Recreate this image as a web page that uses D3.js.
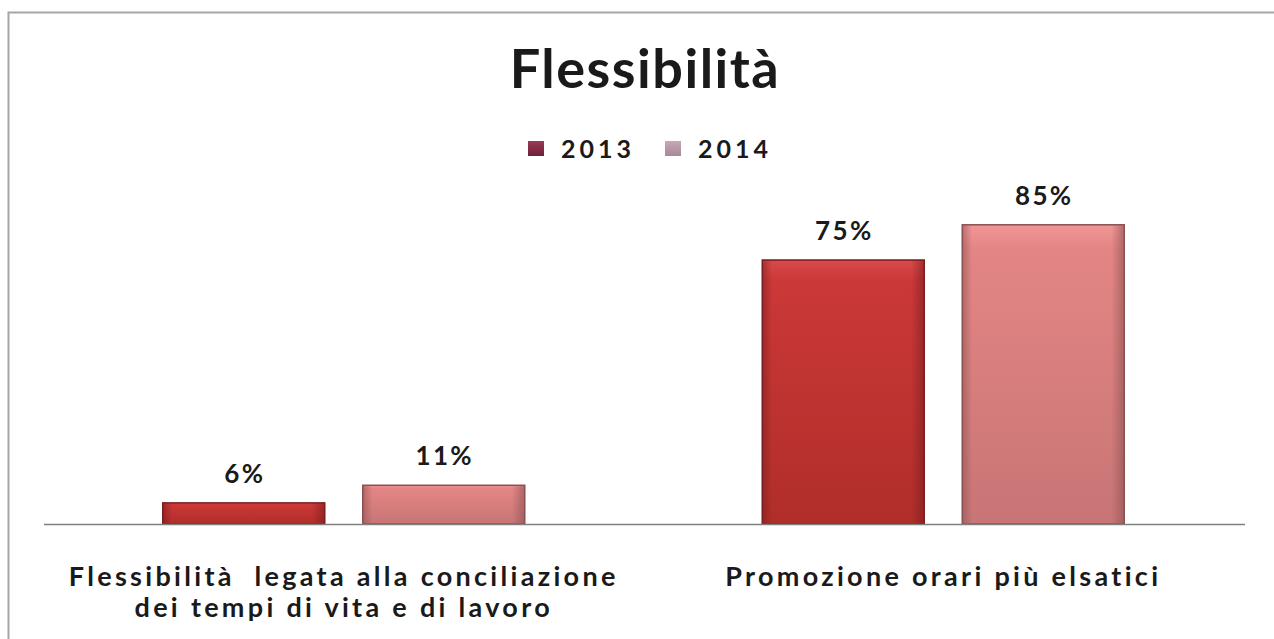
<!DOCTYPE html>
<html>
<head>
<meta charset="utf-8">
<script src="https://cdn.jsdelivr.net/npm/d3@7"></script>
<style>
  html, body { margin: 0; padding: 0; background: #ffffff; }
  svg { display: block; }
  text { font-family: Lato, "Open Sans", "DejaVu Sans", sans-serif; font-weight: bold; fill: #1a1a1a; }
</style>
</head>
<body>
<svg id="chart" width="1274" height="639"></svg>
<script>
// Chart content
const title = "Flessibilità";
const categories = [
  ["Flessibilità  legata alla conciliazione", "dei tempi di vita e di lavoro"],
  ["Promozione orari più elsatici"]
];
const seriesNames = ["2013", "2014"];
const values2013 = [6, 75];
const values2014 = [11, 85];
const seriesValues = [values2013, values2014];

const W = 1274, H = 639;
const svg = d3.select("#chart");

// Frame around the chart
svg.append("rect")
  .attr("x", 8.5).attr("y", 12.5)
  .attr("width", W + 20).attr("height", H + 20)
  .attr("fill", "#ffffff")
  .attr("stroke", "#a6a6a6").attr("stroke-width", 2);

// Gradients for bars and legend swatches
const defs = svg.append("defs");
const barStyles = [
  { id: "g2013", top: "#d84a4a", mid: "#cb3838", bot: "#b02e2a", edge: "#7a1d1f" },
  { id: "g2014", top: "#f09696", mid: "#e48585", bot: "#c87575", edge: "#8a5050" }
];
barStyles.forEach(s => {
  const v = defs.append("linearGradient").attr("id", s.id)
    .attr("x1", 0).attr("y1", 0).attr("x2", 0).attr("y2", 1);
  v.append("stop").attr("offset", "0%").attr("stop-color", s.top);
  v.append("stop").attr("offset", "8%").attr("stop-color", s.mid);
  v.append("stop").attr("offset", "100%").attr("stop-color", s.bot);
  const h = defs.append("linearGradient").attr("id", s.id + "h")
    .attr("x1", 0).attr("y1", 0).attr("x2", 1).attr("y2", 0);
  h.append("stop").attr("offset", "0%").attr("stop-color", s.edge).attr("stop-opacity", 0.55);
  h.append("stop").attr("offset", "6%").attr("stop-color", s.edge).attr("stop-opacity", 0.0);
  h.append("stop").attr("offset", "92%").attr("stop-color", s.edge).attr("stop-opacity", 0.0);
  h.append("stop").attr("offset", "100%").attr("stop-color", s.edge).attr("stop-opacity", 0.6);
});
const legendColors = [["#9a3a55", "#6e2238"], ["#c8a8b6", "#a88898"]];
legendColors.forEach((c, i) => {
  const g = defs.append("linearGradient").attr("id", "lg" + i)
    .attr("x1", 0).attr("y1", 0).attr("x2", 0).attr("y2", 1);
  g.append("stop").attr("offset", "0%").attr("stop-color", c[0]);
  g.append("stop").attr("offset", "100%").attr("stop-color", c[1]);
});

// Scales
const x = d3.scaleBand().domain(d3.range(categories.length)).range([44, 1243]);
const xs = d3.scaleBand().domain(seriesNames).range([-181, 181]).paddingInner(0.19);
const y = d3.scaleLinear().domain([0, 100]).range([524, 172]);

// Title
svg.append("text")
  .attr("x", 645).attr("y", 88)
  .attr("text-anchor", "middle")
  .attr("font-size", 54)
  .attr("letter-spacing", 1.5)
  .text(title);

// Legend
const legend = svg.append("g");
const legendX = [528, 665];
seriesNames.forEach((name, i) => {
  legend.append("rect")
    .attr("x", legendX[i]).attr("y", 141)
    .attr("width", 16).attr("height", 15)
    .attr("fill", `url(#lg${i})`);
  legend.append("text")
    .attr("x", legendX[i] + 33).attr("y", 158)
    .attr("font-size", 25)
    .attr("letter-spacing", 4)
    .text(name);
});

// Bars
const groups = svg.append("g").selectAll("g")
  .data(categories.map((c, ci) => ci))
  .join("g")
  .attr("transform", ci => `translate(${x(ci) + x.bandwidth() / 2},0)`);

groups.each(function(ci) {
  const g = d3.select(this);
  seriesNames.forEach((name, si) => {
    const v = seriesValues[si][ci];
    const bx = xs(name), bw = xs.bandwidth();
    const by = y(v), bh = y(0) - y(v);
    g.append("rect")
      .attr("x", bx).attr("y", by).attr("width", bw).attr("height", bh)
      .attr("fill", `url(#${barStyles[si].id})`)
      .attr("stroke", barStyles[si].edge).attr("stroke-width", 1.5);
    g.append("rect")
      .attr("x", bx).attr("y", by).attr("width", bw).attr("height", bh)
      .attr("fill", `url(#${barStyles[si].id}h)`);
    g.append("text")
      .attr("x", bx + bw / 2 + 1).attr("y", by - 20)
      .attr("text-anchor", "middle")
      .attr("font-size", 26)
      .attr("letter-spacing", 2.4)
      .text(v + "%");
  });
});

// Category axis line
svg.append("line")
  .attr("x1", 44).attr("x2", 1245)
  .attr("y1", y(0) + 0.5).attr("y2", y(0) + 0.5)
  .attr("stroke", "#7f7f7f").attr("stroke-width", 1.5);

// Category labels
categories.forEach((lines, ci) => {
  const t = svg.append("text")
    .attr("x", x(ci) + x.bandwidth() / 2)
    .attr("y", 586)
    .attr("text-anchor", "middle")
    .attr("font-size", 27)
    .attr("letter-spacing", 3.3);
  lines.forEach((ln, li) => {
    t.append("tspan")
      .attr("x", x(ci) + x.bandwidth() / 2)
      .attr("dy", li === 0 ? 0 : 31)
      .attr("xml:space", "preserve")
      .text(ln);
  });
});
</script>
</body>
</html>
